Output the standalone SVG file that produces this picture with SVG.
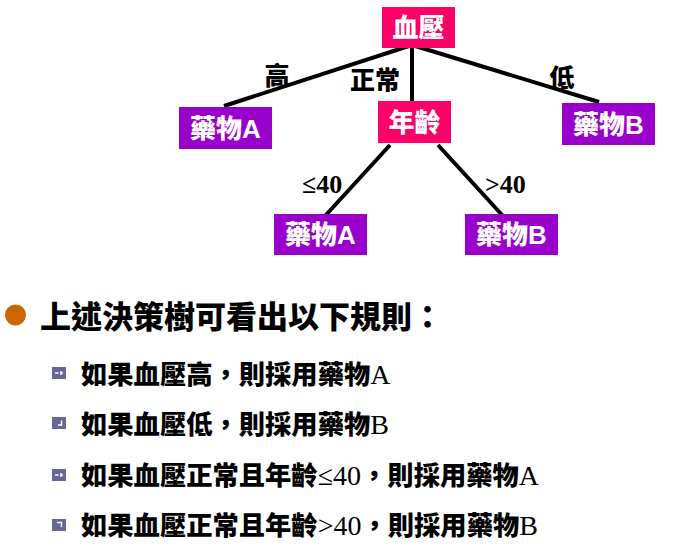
<svg xmlns="http://www.w3.org/2000/svg" width="687" height="555" viewBox="0 0 687 555">
  <style>
    .edge { stroke: #000; stroke-width: 4; stroke-linecap: butt; fill: none; }
    .root { fill: #FF0066; }
    .leaf { fill: #9900CC; }
    .ntext { fill: #fff; font-family: "Noto Sans CJK TC", "Noto Sans CJK SC", sans-serif; font-weight: 900; font-size: 26px; text-anchor: middle; }
    .nlat { font-family: "Liberation Sans", Arial, sans-serif; font-weight: 700; }
    .elabel { fill: #000; font-family: "Noto Sans CJK TC", "Noto Sans CJK SC", sans-serif; font-weight: 900; font-size: 25px; text-anchor: middle; }
    .cond { fill: #000; font-family: "Liberation Serif", "Times New Roman", serif; font-weight: 700; font-size: 26px; }
    .title { fill: #000; font-family: "Noto Sans CJK TC", "Noto Sans CJK SC", sans-serif; font-weight: 900; font-size: 31px; }
    .rule { fill: #000; font-family: "Noto Sans CJK TC", "Noto Sans CJK SC", sans-serif; font-weight: 900; font-size: 26.3px; }
    .lat { font-family: "Liberation Serif", "Times New Roman", serif; font-weight: 400; font-size: 28px; }
    .sq { fill: #666699; }
    .mark { stroke: #fff; stroke-width: 1.5; fill: none; }
  </style>

  <!-- tree connectors -->
  <g id="connectors">
    <line class="edge" x1="412" y1="45" x2="224" y2="106"/>
    <line class="edge" x1="412" y1="45" x2="412" y2="101"/>
    <line class="edge" x1="412" y1="45" x2="599" y2="102"/>
    <line class="edge" x1="390" y1="145" x2="325" y2="216"/>
    <line class="edge" x1="438" y1="145" x2="503" y2="216"/>
    <text class="elabel" x="277" y="85">高</text>
    <text class="elabel" x="375" y="89">正常</text>
    <text class="elabel" x="562" y="87">低</text>
    <text class="cond" x="302" y="193">≤40</text>
    <text class="cond" x="485" y="193">&gt;40</text>
  </g>

  <!-- tree nodes -->
  <g id="node-bp">
    <rect class="root" x="382" y="7" width="73" height="41"/>
    <text class="ntext" x="418.5" y="37">血壓</text>
  </g>
  <g id="node-age">
    <rect class="root" x="378" y="101" width="73" height="42"/>
    <text class="ntext" x="414.5" y="131.5">年齡</text>
  </g>
  <g id="node-drugA-high">
    <rect class="leaf" x="179" y="107" width="93" height="42"/>
    <text class="ntext" x="225.5" y="137.5">藥物<tspan class="nlat">A</tspan></text>
  </g>
  <g id="node-drugB-low">
    <rect class="leaf" x="562" y="103" width="93" height="42"/>
    <text class="ntext" x="608.5" y="133.5">藥物<tspan class="nlat">B</tspan></text>
  </g>
  <g id="node-drugA-young">
    <rect class="leaf" x="274" y="214" width="93" height="41"/>
    <text class="ntext" x="320.5" y="244">藥物<tspan class="nlat">A</tspan></text>
  </g>
  <g id="node-drugB-old">
    <rect class="leaf" x="465" y="214" width="93" height="41"/>
    <text class="ntext" x="511.5" y="244">藥物<tspan class="nlat">B</tspan></text>
  </g>

  <!-- rule list -->
  <g id="rules">
    <circle cx="15.5" cy="315" r="10.5" fill="#CC6600"/>
    <text class="title" x="40" y="328">上述決策樹可看出以下規則：</text>

    <rect class="sq" x="52" y="367" width="14" height="12"/>
    <path class="mark" d="M55 373h3.5M63 373h-2.5M61 371v4"/>
    <text class="rule" x="81" y="383.5">如果血壓高，則採用藥物<tspan class="lat">A</tspan></text>

    <rect class="sq" x="52" y="417" width="14" height="12"/>
    <path class="mark" d="M58 425h3.5v-4.5"/>
    <text class="rule" x="81" y="433.5">如果血壓低，則採用藥物<tspan class="lat">B</tspan></text>

    <rect class="sq" x="52" y="469" width="14" height="12"/>
    <path class="mark" d="M55 475h3.5M63 475h-2.5M61 473v4"/>
    <text class="rule" x="81" y="484.5">如果血壓正常且年齡<tspan class="lat">≤40</tspan>，則採用藥物<tspan class="lat">A</tspan></text>

    <rect class="sq" x="52" y="519" width="14" height="12"/>
    <path class="mark" d="M57 522.5h4.5v4.5"/>
    <text class="rule" x="81" y="534.5">如果血壓正常且年齡<tspan class="lat">&gt;40</tspan>，則採用藥物<tspan class="lat">B</tspan></text>
  </g>
</svg>
